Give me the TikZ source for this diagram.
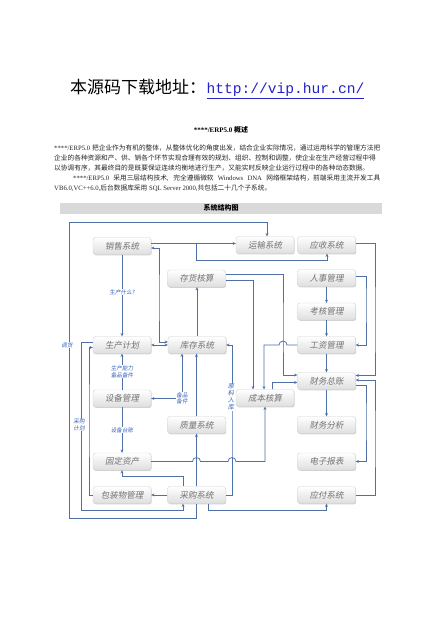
\documentclass[tikz,border=0pt]{standalone}
\usepackage{fontspec}
\setmainfont{Liberation Serif}
\newfontfamily\cjk{Noto Sans CJK SC}
\newfontfamily\cjkit[FakeSlant=0.18]{Noto Sans CJK SC}
\newfontfamily\mono{Liberation Mono}
\usetikzlibrary{arrows.meta,shadows}
\definecolor{lnblue}{RGB}{78,112,165}
\definecolor{lbblue}{RGB}{55,100,185}
\definecolor{urlblue}{RGB}{35,35,200}
\XeTeXlinebreaklocale "zh"
\XeTeXlinebreakskip=0pt plus 1pt
\begin{document}
\begin{tikzpicture}[x=1pt,y=-1pt,
  sysbox/.style={draw=black!18, rounded corners=2.5pt, minimum width=58pt, minimum height=17pt,
    top color=white, bottom color=black!13, inner sep=0pt,
    drop shadow={shadow xshift=0.7pt, shadow yshift=-0.9pt, opacity=0.35},
    font=\cjkit\fontsize{8.5}{9}\selectfont, text=black!55},
  ln/.style={draw=lnblue, line width=0.75pt},
  arr/.style={-{Stealth[length=3.2pt,width=3pt]}},
  darr/.style={{Stealth[length=3.2pt,width=3pt]}-{Stealth[length=3.2pt,width=3pt]}},
  lab/.style={fill=white, inner sep=0.6pt, text=lbblue, align=center,
    font=\cjkit\fontsize{5.6}{6.4}\selectfont},
  para/.style={anchor=base west, inner sep=0pt, text=black!85, font=\fontsize{6.7}{7}\selectfont}
]
\path[use as bounding box, fill=white] (0,0) rectangle (440,620);

% title
\node[anchor=base west, inner sep=0pt] (t1) at (70,94) {\cjk\fontsize{17}{17}\selectfont 本源码下载地址：};
\node[anchor=base west, inner sep=0pt, text=urlblue] (t2) at (t1.base east) {\mono\fontsize{14.6}{15}\selectfont\underline{http://vip.hur.cn/}};

\node[inner sep=0pt, font=\bfseries\fontsize{7}{7}\selectfont] (hd) at (221,130) {****/ERP5.0 {\cjk\bfseries 概述}};

\node[para] (p1) at (54,150.5) {\makebox[326pt][s]{****/ERP5.0 {\cjk 把企业作为有机的整体，从整体优化的角度出发，结合企业实际情况，通过运用科学的管理方法把}}};
\node[para] (p2) at (54,160.5) {\makebox[326pt][s]{\cjk 企业的各种资源和产、供、销各个环节实现合理有效的规划、组织、控制和调整，使企业在生产经营过程中得}};
\node[para] (p3) at (54,170.5) {\cjk 以协调有序，其最终目的是既要保证连续均衡地进行生产，又能实时反映企业运行过程中的各种动态数据。};
\node[para] (p4) at (73,180.5) {\makebox[307pt][s]{****/ERP5.0 {\cjk 采用三层结构技术}, {\cjk 完全遵循微软} Windows DNA {\cjk 网络框架结构，前端采用主流开发工具}}};
\node[para] (p5) at (54,191) {VB6.0,VC++6.0,{\cjk 后台数据库采用} SQL Server 2000,{\cjk 共包括二十几个子系统。}};

% band
\fill[black!15] (60,203) rectangle (382,213.5);
\node[inner sep=0pt, font=\cjk\bfseries\fontsize{7}{7}\selectfont] (band) at (221,208.3) {系统结构图};

% boxes
\node[sysbox] (xs) at (122,246) {销售系统};
\node[sysbox] (ys) at (265,245) {运输系统};
\node[sysbox] (yings) at (326.5,245) {应收系统};
\node[sysbox] (chh) at (196.5,278.5) {存货核算};
\node[sysbox] (rs) at (326.5,278) {人事管理};
\node[sysbox] (kh) at (326.5,311.5) {考核管理};
\node[sysbox] (sc) at (122,345) {生产计划};
\node[sysbox] (kc) at (197,345) {库存系统};
\node[sysbox] (gz) at (326.5,345) {工资管理};
\node[sysbox] (cw) at (326.5,381) {财务总账};
\node[sysbox] (sb) at (122,398.5) {设备管理};
\node[sysbox] (cb) at (265,398) {成本核算};
\node[sysbox] (zl) at (196.5,425) {质量系统};
\node[sysbox] (fx) at (326.5,425) {财务分析};
\node[sysbox] (gd) at (122,461.5) {固定资产};
\node[sysbox] (dz) at (326.5,461.5) {电子报表};
\node[sysbox] (bz) at (122,495) {包装物管理};
\node[sysbox] (cg) at (196.5,495) {采购系统};
\node[sysbox] (yf) at (326.5,495) {应付系统};

% connectors
\draw[ln,arr] (cg.south) -- (196.5,518) -- (69,518) -- (69,222) -- (267,222) -- (ys.north -| 267,0);
\node[lab] (l1) at (67,345) {调货};

\draw[ln,arr] ([yshift=2.5pt]xs.east) -- ([yshift=2.5pt]xs.east -| ys.west);
\coordinate (jb) at (196.5,243.5);
\draw[ln,arr] (jb) -- (196.5,260) -- (327,260) -- (yings.south -| 327,0);

\draw[ln,darr] ([yshift=-2pt]xs.east) -| (159,300) |- ([yshift=3pt]kc.west);
\draw[ln,arr] (xs.south) -- (sc.north) node[lab,pos=0.46] {生产什么?};

\draw[ln,arr] ([yshift=4.5pt]chh.east) -| (283,330) |- ([yshift=6pt]cw.west);
\draw[ln,arr] ([yshift=-1.5pt]chh.east) -| ([xshift=-12pt]cb.north);
\draw[ln,arr] (kc.north) -- (kc.north |- chh.south);

\draw[ln,arr] (rs.south) -- (kh.north);
\draw[ln,arr] (kh.south) -- (gz.north);
\draw[ln,arr] (gz.south) -- (cw.north);
\draw[ln,arr] ([yshift=1.5pt]rs.east) -| (366,300) |- (gz.east);
\draw[ln,arr] ([yshift=2pt]yings.east) -| (375,330) |- ([yshift=5.5pt]cw.east);
\draw[ln,arr] (yf.east) -| (375,440) |- ([yshift=1pt]cw.east);
\draw[ln,arr] ([yshift=-4pt]cw.east) -| (366,420) |- (dz.east);
\draw[ln,arr] (cw.south) -- (fx.north);

\draw[ln,arr] (gz.west) -- (287,345) arc[start angle=0,end angle=180,radius=4pt] -- (264,345) -- (cb.north -| 264,0);
\draw[ln,arr] ([xshift=7pt]cb.north) |- ([yshift=-1.5pt]cw.west);

\draw[ln,arr] (gd.east) -- (192.5,461.5) arc[start angle=180,end angle=0,radius=4pt] -- (228,461.5) arc[start angle=180,end angle=0,radius=4pt] -- (265,461.5) -- (cb.south);

\draw[ln,darr] (sc.east) -- (kc.west);
\draw[ln,arr] (sb.north) -- (sc.south) node[lab,midway] {生产能力\\备品备件};
\draw[ln,darr] ([xshift=-15pt]kc.south) |- (sb.east) node[lab,pos=0.5] {备品\\备件};
\draw[ln,arr] (zl.north) -- (zl.north |- kc.south);
\draw[ln,arr] (sb.south) -- (gd.north) node[lab,midway] {设备台账};

\draw[ln,arr] ([xshift=-13.5pt]cg.north) -- (183,476) -- (122,476) -- (gd.south);
\draw[ln,arr] (cg.west) -- (bz.east);
\draw[ln,arr] (cg.east) -| (232,420) |- (kc.east);
\node[lab, font=\cjkit\fontsize{6.2}{6.8}\selectfont] (l2) at (231,397) {原\\料\\入\\库};
\draw[ln,arr] (cg.north) -- (zl.south);

\draw[ln,arr] (bz.west) -| (89,420) |- ([yshift=-2.5pt]sc.west);
\draw[ln,arr] ([yshift=3pt]sc.west) -| (81,510) -| ([xshift=-13.5pt]cg.south);
\node[lab] (l3) at (79,425) {采购\\计划};
\draw[ln,arr] ([xshift=11.5pt]cg.south) -- (208,510) -| (yf.south);
\end{tikzpicture}
\end{document}
